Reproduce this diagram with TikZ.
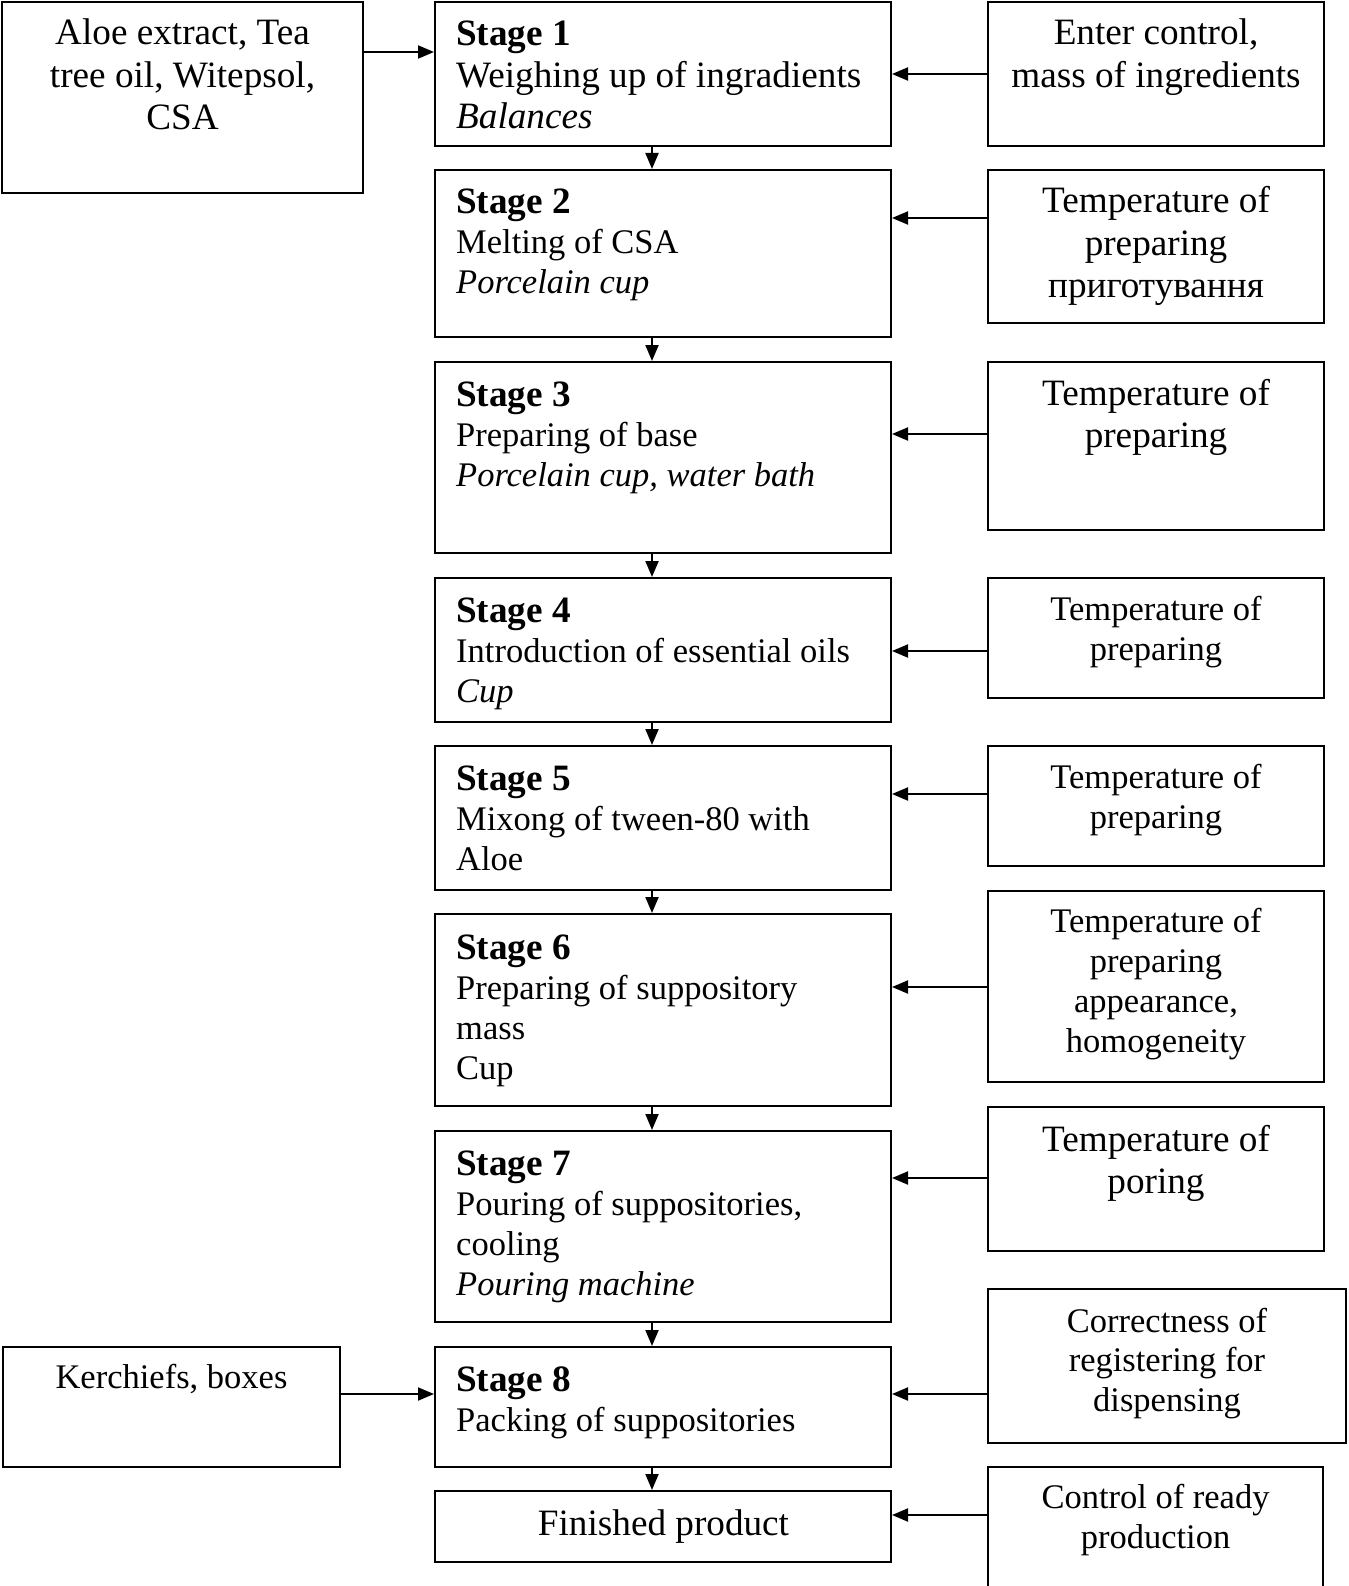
\documentclass[tikz,border=0pt]{standalone}
\usepackage{fontspec}
\setmainfont{Liberation Serif}
\usetikzlibrary{arrows.meta}
\newcommand{\bigf}{\fontsize{37.2}{42.5}\selectfont}
\newcommand{\bigfs}{\fontsize{37.2}{41.5}\selectfont}
\newcommand{\smallf}{\fontsize{34.5}{40}\selectfont}
\newcommand{\smallfr}{\fontsize{34.5}{39.5}\selectfont}
\newcommand{\ttl}[1]{{\fontsize{37.2}{40}\selectfont\bfseries #1}}
\tikzset{
  box/.style={draw, line width=2pt, inner sep=0pt, rectangle},
  lt/.style={inner sep=0pt, align=left, anchor=base west},
  ct/.style={inner sep=0pt, align=center, anchor=base},
  arr/.style={line width=2pt, -{Triangle[length=16pt,width=13pt]}},
}
\newcommand{\mybox}[5]{\node[box, minimum width={#4-#2}, minimum height={#5-#3}] (#1) at ({(#2+#4)/2},{(#3+#5)/2}) {};}
\begin{document}
\begin{tikzpicture}[x=1pt,y=-1pt]
\useasboundingbox (0,0) rectangle (1348,1586);
% boxes
\mybox{aloe}{2}{2}{363}{193}
\mybox{s1}{435}{2}{891}{146}
\mybox{s2}{435}{170}{891}{337}
\mybox{s3}{435}{362}{891}{553}
\mybox{s4}{435}{578}{891}{722}
\mybox{s5}{435}{746}{891}{890}
\mybox{s6}{435}{914}{891}{1106}
\mybox{s7}{435}{1131}{891}{1322}
\mybox{s8}{435}{1347}{891}{1467}
\mybox{fin}{435}{1491}{891}{1562}
\mybox{ker}{3}{1347}{340}{1467}
\mybox{r1}{988}{2}{1324}{146}
\mybox{r2}{988}{170}{1324}{323}
\mybox{r3}{988}{362}{1324}{530}
\mybox{r4}{988}{578}{1324}{698}
\mybox{r5}{988}{746}{1324}{866}
\mybox{r6}{988}{891}{1324}{1082}
\mybox{r7}{988}{1107}{1324}{1251}
\mybox{r8}{988}{1289}{1346}{1443}
\mybox{r9}{988}{1467}{1323}{1592}
% texts (anchor = baseline of the last line)
\node[ct, font=\bigf] (aloet) at (182.5,130) {Aloe extract, Tea\\tree oil, Witepsol,\\CSA};
\node[ct, font=\smallf] (kert) at (171.5,1388) {Kerchiefs, boxes};
\node[ct, font=\bigf] (fint) at (663.5,1535) {Finished product};
\node[lt, font=\bigfs] (s1t) at (456,129) {\ttl{Stage 1}\\Weighing up of ingradients\\\textit{Balances}};
\node[lt, font=\smallf] (s2t) at (456,294) {\ttl{Stage 2}\\Melting of CSA\\\textit{Porcelain cup}};
\node[lt, font=\smallf] (s3t) at (456,486) {\ttl{Stage 3}\\Preparing of base\\\textit{Porcelain cup, water bath}};
\node[lt, font=\smallf] (s4t) at (456,702) {\ttl{Stage 4}\\Introduction of essential oils\\\textit{Cup}};
\node[lt, font=\smallf] (s5t) at (456,870) {\ttl{Stage 5}\\Mixong of tween-80 with\\Aloe};
\node[lt, font=\smallf] (s6t) at (456,1079) {\ttl{Stage 6}\\Preparing of suppository\\mass\\Cup};
\node[lt, font=\smallf] (s7t) at (456,1295) {\ttl{Stage 7}\\Pouring of suppositories,\\cooling\\\textit{Pouring machine}};
\node[lt, font=\smallf] (s8t) at (456,1431) {\ttl{Stage 8}\\Packing of suppositories};
\node[ct, font=\bigf] (r1t) at (1156,87.5) {Enter control,\\mass of ingredients};
\node[ct, font=\bigf] (r2t) at (1156,298) {Temperature of\\preparing\\приготування};
\node[ct, font=\bigf] (r3t) at (1156,447.5) {Temperature of\\preparing};
\node[ct, font=\smallf] (r4t) at (1156,660) {Temperature of\\preparing};
\node[ct, font=\smallf] (r5t) at (1156,828) {Temperature of\\preparing};
\node[ct, font=\smallf] (r6t) at (1156,1052) {Temperature of\\preparing\\appearance,\\homogeneity};
\node[ct, font=\bigf] (r7t) at (1156,1193.5) {Temperature of\\poring};
\node[ct, font=\smallfr] (r8t) at (1167,1411) {Correctness of\\registering for\\dispensing};
\node[ct, font=\smallf] (r9t) at (1155.5,1548) {Control of ready\\production};
% vertical arrows
\coordinate (ax) at (652,0);
\draw[arr] (s1.south -| ax) -- (s2.north -| ax);
\draw[arr] (s2.south -| ax) -- (s3.north -| ax);
\draw[arr] (s3.south -| ax) -- (s4.north -| ax);
\draw[arr] (s4.south -| ax) -- (s5.north -| ax);
\draw[arr] (s5.south -| ax) -- (s6.north -| ax);
\draw[arr] (s6.south -| ax) -- (s7.north -| ax);
\draw[arr] (s7.south -| ax) -- (s8.north -| ax);
\draw[arr] (s8.south -| ax) -- (fin.north -| ax);
% horizontal arrows
\draw[arr] (aloe.east |- 0,52) -- (s1.west |- 0,52);
\draw[arr] (ker.east |- 0,1394) -- (s8.west |- 0,1394);
\draw[arr] (r1.west |- 0,74) -- (s1.east |- 0,74);
\draw[arr] (r2.west |- 0,218) -- (s2.east |- 0,218);
\draw[arr] (r3.west |- 0,434) -- (s3.east |- 0,434);
\draw[arr] (r4.west |- 0,651) -- (s4.east |- 0,651);
\draw[arr] (r5.west |- 0,794) -- (s5.east |- 0,794);
\draw[arr] (r6.west |- 0,987) -- (s6.east |- 0,987);
\draw[arr] (r7.west |- 0,1178) -- (s7.east |- 0,1178);
\draw[arr] (r8.west |- 0,1394) -- (s8.east |- 0,1394);
\draw[arr] (r9.west |- 0,1515) -- (fin.east |- 0,1515);
\end{tikzpicture}
\end{document}
